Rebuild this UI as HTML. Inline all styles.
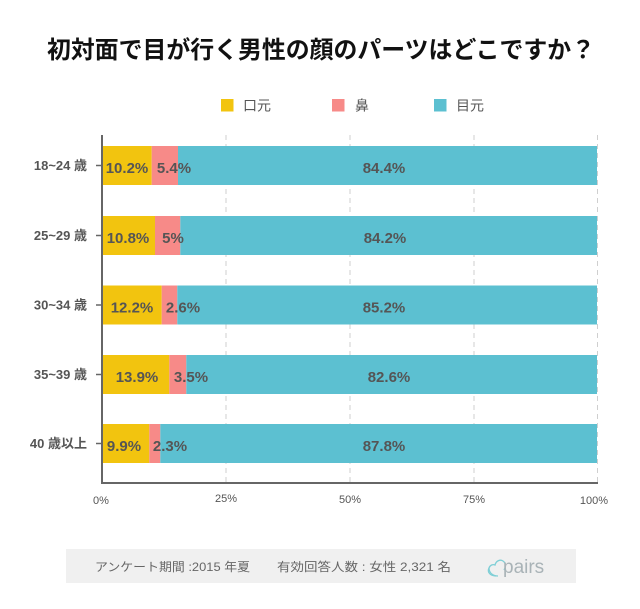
<!DOCTYPE html>
<html lang="ja">
<head>
<meta charset="utf-8">
<style>
  html,body{margin:0;padding:0;background:#fff;}
  body{width:640px;height:609px;overflow:hidden;}
  svg{display:block;}
  .f{font-family:"Liberation Sans","Noto Sans CJK JP",sans-serif;}
  .j{font-family:"Noto Sans CJK JP","Liberation Sans",sans-serif;}
</style>
</head>
<body>
<svg width="640" height="609" viewBox="0 0 640 609" xmlns="http://www.w3.org/2000/svg">
  <rect width="640" height="609" fill="#fff"/>

  <!-- Title -->
  <text x="321" y="58" text-anchor="middle" class="j" font-size="24" font-weight="bold" fill="#111" textLength="548" lengthAdjust="spacingAndGlyphs">初対面で目が行く男性の顔のパーツはどこですか？</text>

  <!-- Legend -->
  <rect x="221" y="99" width="12.5" height="12.5" fill="#F2C40F"/>
  <text x="243" y="110.5" class="j" font-size="14" fill="#555">口元</text>
  <rect x="332" y="99" width="12.5" height="12.5" fill="#F78A88"/>
  <text x="355" y="110.5" class="j" font-size="14" fill="#555">鼻</text>
  <rect x="434" y="99" width="12.5" height="12.5" fill="#5CC0D1"/>
  <text x="456" y="110.5" class="j" font-size="14" fill="#555">目元</text>

  <!-- Gridlines -->
  <g stroke="#cfcfcf" stroke-width="1" stroke-dasharray="5,4">
    <line x1="226" y1="135" x2="226" y2="482"/>
    <line x1="350" y1="135" x2="350" y2="482"/>
    <line x1="474" y1="135" x2="474" y2="482"/>
    <line x1="597.5" y1="135" x2="597.5" y2="482"/>
  </g>

  <!-- Bars -->
  <!-- Row 1 -->
  <rect x="103" y="146" width="48.7" height="39" fill="#F2C40F"/>
  <rect x="151.7" y="146" width="26.3" height="39" fill="#F78A88"/>
  <rect x="178" y="146" width="419" height="39" fill="#5CC0D1"/>
  <!-- Row 2 -->
  <rect x="103" y="216" width="52" height="39" fill="#F2C40F"/>
  <rect x="155" y="216" width="25.3" height="39" fill="#F78A88"/>
  <rect x="180.3" y="216" width="416.7" height="39" fill="#5CC0D1"/>
  <!-- Row 3 -->
  <rect x="103" y="285.5" width="58.7" height="39" fill="#F2C40F"/>
  <rect x="161.7" y="285.5" width="15.6" height="39" fill="#F78A88"/>
  <rect x="177.3" y="285.5" width="419.7" height="39" fill="#5CC0D1"/>
  <!-- Row 4 -->
  <rect x="103" y="355" width="66.3" height="39" fill="#F2C40F"/>
  <rect x="169.3" y="355" width="17" height="39" fill="#F78A88"/>
  <rect x="186.3" y="355" width="410.7" height="39" fill="#5CC0D1"/>
  <!-- Row 5 -->
  <rect x="103" y="424" width="46.3" height="39" fill="#F2C40F"/>
  <rect x="149.3" y="424" width="11" height="39" fill="#F78A88"/>
  <rect x="160.3" y="424" width="436.7" height="39" fill="#5CC0D1"/>

  <!-- Axes -->
  <line x1="102" y1="135" x2="102" y2="484" stroke="#666" stroke-width="2"/>
  <line x1="101" y1="483" x2="598" y2="483" stroke="#666" stroke-width="2"/>
  <g stroke="#666" stroke-width="1.5">
    <line x1="96" y1="165.5" x2="101" y2="165.5"/>
    <line x1="96" y1="235.5" x2="101" y2="235.5"/>
    <line x1="96" y1="305" x2="101" y2="305"/>
    <line x1="96" y1="374.5" x2="101" y2="374.5"/>
    <line x1="96" y1="443.5" x2="101" y2="443.5"/>
  </g>

  <!-- Y labels -->
  <g class="f" font-size="13" font-weight="bold" fill="#555" text-anchor="end">
    <text x="87" y="170">18~24 歳</text>
    <text x="87" y="240">25~29 歳</text>
    <text x="87" y="309.5">30~34 歳</text>
    <text x="87" y="379">35~39 歳</text>
    <text x="87" y="448">40 歳以上</text>
  </g>

  <!-- X labels -->
  <g class="f" font-size="11" fill="#555" text-anchor="middle">
    <text x="101" y="504">0%</text>
    <text x="226" y="502">25%</text>
    <text x="350" y="503">50%</text>
    <text x="474" y="503">75%</text>
    <text x="594" y="504">100%</text>
  </g>

  <!-- Value labels -->
  <g class="f" font-size="15" font-weight="bold" fill="#555" text-anchor="middle">
    <text x="127" y="173">10.2%</text>
    <text x="174" y="173">5.4%</text>
    <text x="384" y="173">84.4%</text>

    <text x="128" y="243">10.8%</text>
    <text x="173" y="243">5%</text>
    <text x="385" y="243">84.2%</text>

    <text x="132" y="312.5">12.2%</text>
    <text x="183" y="312.5">2.6%</text>
    <text x="384" y="312.5">85.2%</text>

    <text x="137" y="382">13.9%</text>
    <text x="191" y="382">3.5%</text>
    <text x="389" y="382">82.6%</text>

    <text x="124" y="451">9.9%</text>
    <text x="170" y="451">2.3%</text>
    <text x="384" y="451">87.8%</text>
  </g>

  <!-- Footer -->
  <rect x="66" y="549" width="510" height="34" fill="#f0f0f0"/>
  <text x="95" y="571" class="f" font-size="12" fill="#666" textLength="155" lengthAdjust="spacingAndGlyphs">アンケート期間 :2015 年夏</text>
  <text x="277" y="571" class="f" font-size="12" fill="#666" textLength="174" lengthAdjust="spacingAndGlyphs">有効回答人数 : 女性 2,321 名</text>
  <!-- pairs logo -->
  <path d="M496 576 C490 576 487 572 489 568 C490 565 493 564 495 565 C496 561 500 559 503 561 C506 563 506 567 504 570" fill="none" stroke="#7FCFD6" stroke-width="1.3"/>
  <path d="M489 568 C489 573 493 576 498 576" fill="none" stroke="#7FCFD6" stroke-width="1.3"/>
  <text x="503" y="573" class="f" font-size="19" fill="#a9b3b7">pairs</text>
</svg>
</body>
</html>
